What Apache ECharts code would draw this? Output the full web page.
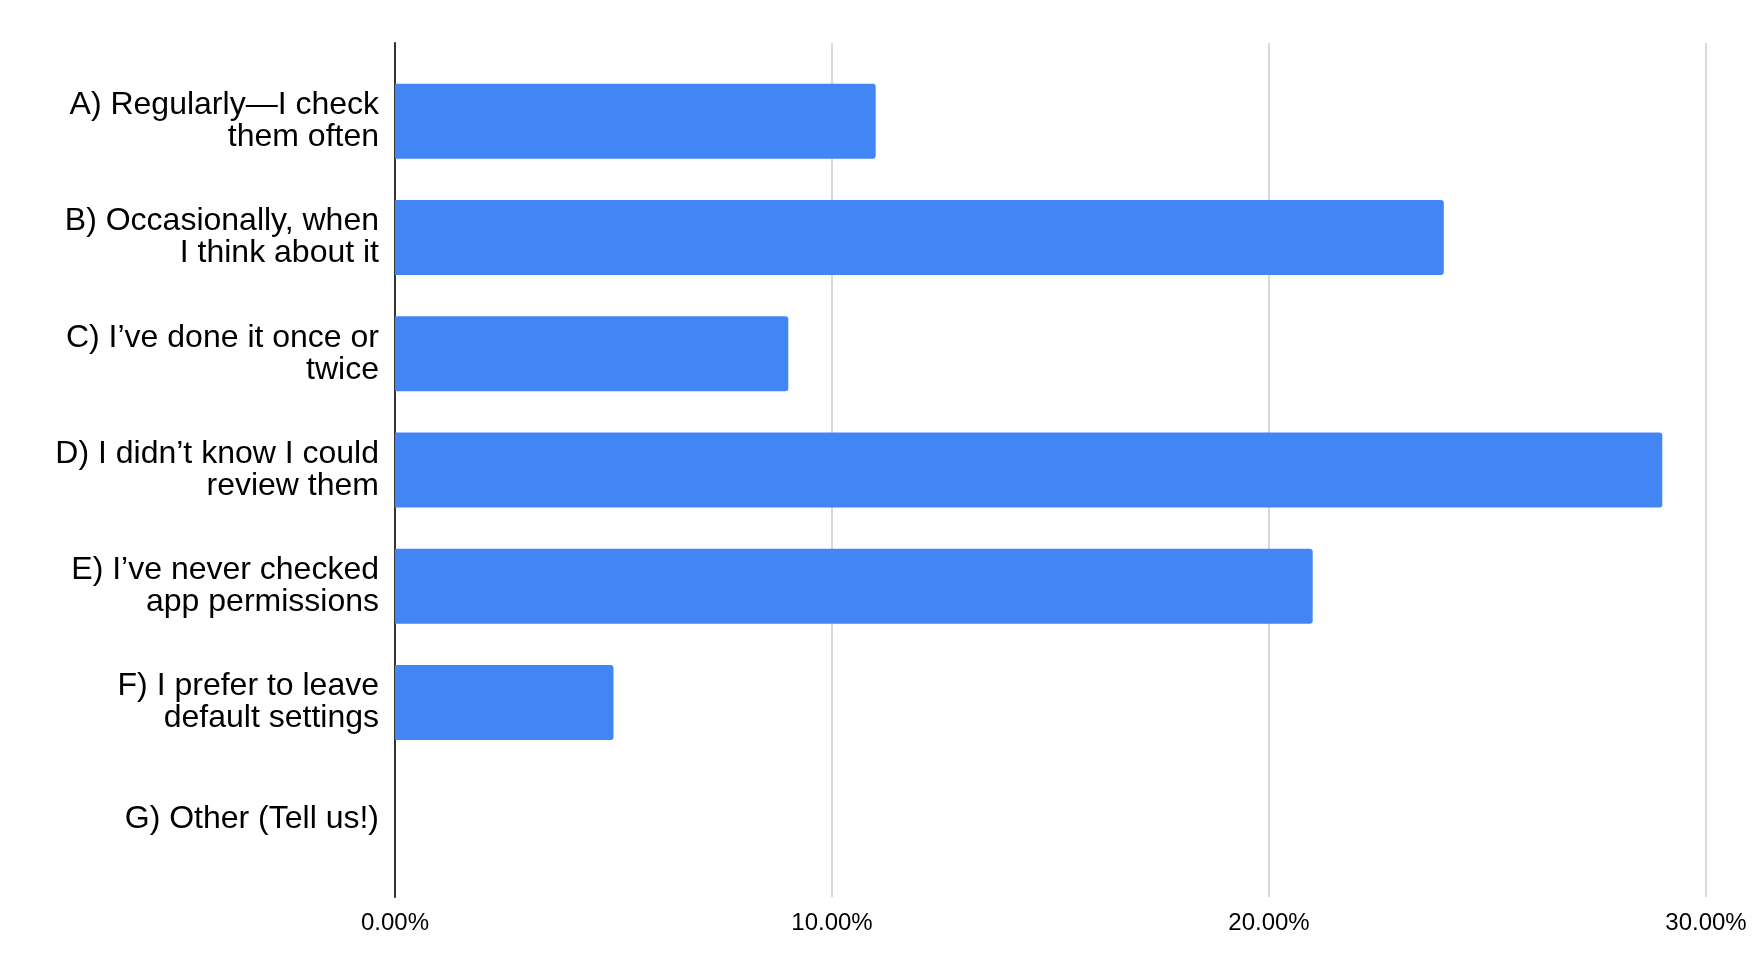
<!DOCTYPE html>
<html>
<head>
<meta charset="utf-8">
<script src="https://cdn.jsdelivr.net/npm/echarts@6/dist/echarts.min.js"></script>
<style>
  html, body { margin: 0; padding: 0; background: #fff; }
  #chart { width: 1754px; height: 976px; }
</style>
</head>
<body>
<div id="chart"></div>
<script>
// answers (two-line labels as in the original)
const categories = [
  'A) Regularly\u2014I check\nthem often',
  'B) Occasionally, when\nI think about it',
  'C) I\u2019ve done it once or\ntwice',
  'D) I didn\u2019t know I could\nreview them',
  'E) I\u2019ve never checked\napp permissions',
  'F) I prefer to leave\ndefault settings',
  'G) Other (Tell us!)'
]
// share of responses, percent
const shares = [11, 24, 9, 29, 21, 5, 0]
const xTicks = [0, 10, 20, 30]

const chart = echarts.init(document.getElementById('chart'))

const font = '"Liberation Sans", Arial, sans-serif'

const option = {
  animation: false,
  textStyle: { fontFamily: font },
  // grid 0: bars + category labels, grid 1: frame (axis line, gridlines, ticks)
  grid: [
    { left: 395, right: 48, top: 63, bottom: 99 },
    { left: 395, right: 48, top: 43, bottom: 79 }
  ],
  xAxis: [{
    gridIndex: 0,
    type: 'value',
    min: xTicks[0],
    max: xTicks[xTicks.length - 1],
    interval: xTicks[1] - xTicks[0],
    show: false
  }, {
    gridIndex: 1,
    type: 'value',
    min: xTicks[0],
    max: xTicks[xTicks.length - 1],
    interval: xTicks[1] - xTicks[0],
    axisLine: { show: false },
    axisTick: { show: false },
    splitLine: { lineStyle: { color: '#cccccc', width: 1.5 } },
    axisLabel: {
      color: '#000',
      fontFamily: font,
      fontSize: 24,
      margin: 14,
      formatter: function (v) { return v.toFixed(2) + '%' }
    }
  }],
  yAxis: [{
    gridIndex: 0,
    type: 'category',
    inverse: true,
    data: categories,
    axisLine: { show: false },
    axisTick: { show: false },
    axisLabel: {
      color: '#000',
      fontFamily: font,
      fontSize: 32,
      lineHeight: 32,
      margin: 16,
      align: 'right'
    }
  }, {
    gridIndex: 1,
    type: 'value',
    axisLine: { show: true, lineStyle: { color: '#333', width: 2 } },
    axisTick: { show: false },
    axisLabel: { show: false },
    splitLine: { show: false }
  }],
  series: [{
    type: 'bar',
    xAxisIndex: 0,
    yAxisIndex: 0,
    data: shares,
    barWidth: '64.5%',
    z: 3,
    itemStyle: { color: '#4285f4', borderRadius: [0, 3, 3, 0] }
  }]
}

chart.setOption(option)
window.addEventListener('resize', function () {
  chart.resize()
})
</script>
</body>
</html>
